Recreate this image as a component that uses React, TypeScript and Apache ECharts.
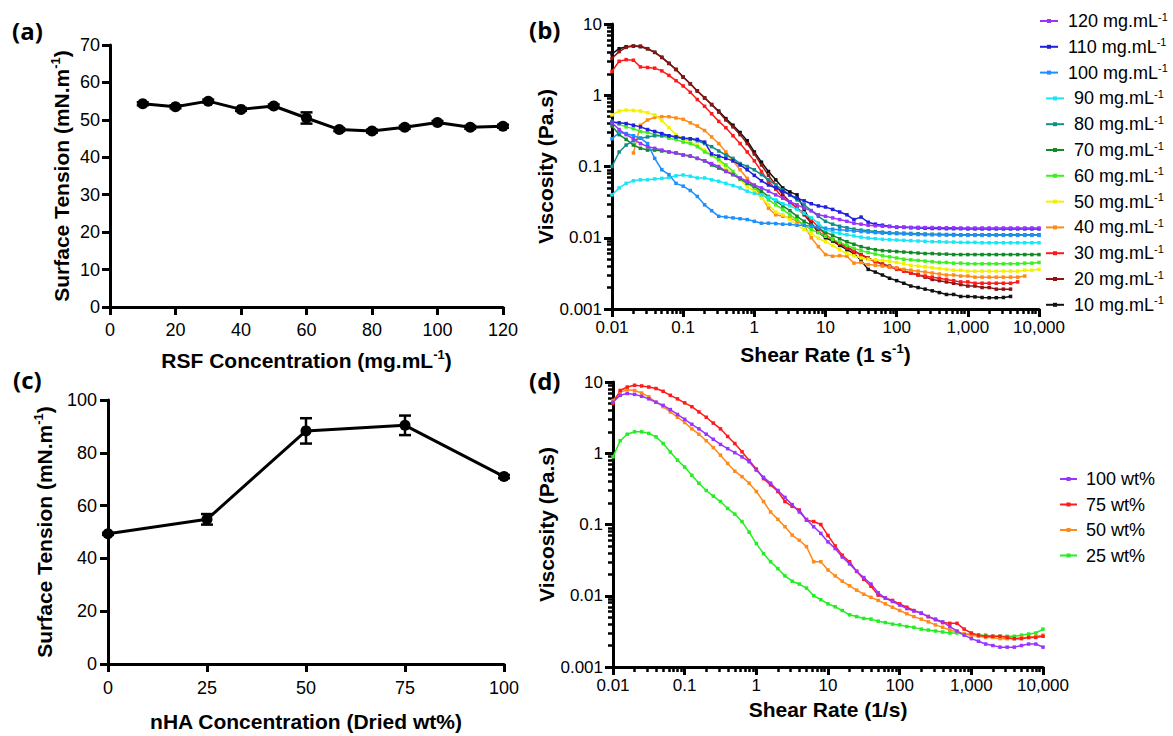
import React, { useEffect, useRef } from 'react';
import * as echarts from 'echarts';

// ---------- Panel (a) ----------
const RSF_CONC = [10, 20, 30, 40, 50, 60, 70, 80, 90, 100, 110, 120];
const TENSION_A = [54.3, 53.5, 55.0, 52.8, 53.7, 50.5, 47.4, 47.0, 48.0, 49.3, 48.0, 48.3];
const ERR_A = [0.4, 0.4, 0.4, 0.4, 0.4, 1.5, 0.4, 0.4, 0.4, 0.4, 0.4, 0.4];

// ---------- Panel (c) ----------
const NHA_CONC = [0, 25, 50, 75, 100];
const TENSION_C = [49.3, 54.8, 88.3, 90.4, 71.0];
const ERR_C = [0.4, 2.0, 4.8, 3.7, 0.6];

// ---------- Shared shear rates (1/s) ----------
const SHEAR = [
  0.01, 0.0126, 0.0158, 0.02, 0.0251, 0.0316, 0.0398, 0.0501, 0.0631, 0.0794,
  0.1, 0.126, 0.158, 0.2, 0.251, 0.316, 0.398, 0.501, 0.631, 0.794,
  1, 1.26, 1.58, 2, 2.51, 3.16, 3.98, 5.01, 6.31, 7.94,
  10, 12.6, 15.8, 20, 25.1, 31.6, 39.8, 50.1, 63.1, 79.4,
  100, 126, 158, 200, 251, 316, 398, 501, 631, 794,
  1000, 1259, 1585, 1995, 2512, 3162, 3981, 5012, 6310, 7943, 10000,
];

// ---------- Panel (b) viscosities (Pa.s) ----------
const V120 = [
  0.41, 0.33, 0.28, 0.245, 0.21, 0.19, 0.18, 0.17, 0.16, 0.155,
  0.145, 0.14, 0.13, 0.12, 0.11, 0.1, 0.086, 0.077, 0.069, 0.062,
  0.055, 0.05, 0.045, 0.04, 0.036, 0.032, 0.029, 0.026, 0.024, 0.021,
  0.02, 0.019, 0.018, 0.017, 0.016, 0.0155, 0.015, 0.0147, 0.0145, 0.0143,
  0.0142, 0.0141, 0.014, 0.014, 0.0139, 0.0139, 0.0138, 0.0138, 0.0138, 0.0137,
  0.0137, 0.0137, 0.0137, 0.0137, 0.0137, 0.0137, 0.0137, 0.0137, 0.0137, 0.0137, 0.0137,
];
const V110 = [
  0.42, 0.41, 0.4, 0.38, 0.36, 0.33, 0.31, 0.29, 0.27, 0.26,
  0.25, 0.245, 0.24, 0.22, 0.15, 0.14, 0.13, 0.12, 0.105, 0.09,
  0.075, 0.063, 0.055, 0.05, 0.045, 0.04, 0.036, 0.033, 0.03, 0.028,
  0.027, 0.025, 0.023, 0.021, 0.018, 0.0195, 0.0165, 0.0155, 0.015, 0.0145,
  0.014, 0.014, 0.0138, 0.0137, 0.0136, 0.0135, 0.0135, 0.0134, 0.0134, 0.0134,
  0.0133, 0.0133, 0.0133, 0.0133, 0.0133, 0.0133, 0.0133, 0.0133, 0.0133, 0.0133, 0.0133,
];
const V100 = [
  0.245, 0.3, 0.29, 0.27, 0.25, 0.21, 0.13, 0.09, 0.077, 0.058,
  0.053, 0.046, 0.038, 0.029, 0.024, 0.02, 0.0195, 0.019, 0.0185, 0.018,
  0.017, 0.016, 0.016, 0.0158, 0.0155, 0.0155, 0.015, 0.015, 0.0145, 0.014,
  0.0136, 0.0132, 0.013, 0.0127, 0.0124, 0.0122, 0.012, 0.0118, 0.0116, 0.0115,
  0.0114, 0.0113, 0.0112, 0.0111, 0.011, 0.011, 0.0109, 0.0109, 0.0108, 0.0108,
  0.0108, 0.0108, 0.0108, 0.0108, 0.0108, 0.0108, 0.0108, 0.0108, 0.0108, 0.0108, 0.0108,
];
const V90 = [
  0.04, 0.05, 0.058, 0.063, 0.065, 0.065, 0.067, 0.068, 0.07, 0.074,
  0.076, 0.073, 0.069, 0.069, 0.065, 0.062, 0.058, 0.054, 0.05, 0.045,
  0.042, 0.04, 0.037, 0.034, 0.03, 0.028, 0.025, 0.022, 0.019, 0.016,
  0.013, 0.012, 0.0115, 0.011, 0.0106, 0.0102, 0.0099, 0.0097, 0.0095, 0.0094,
  0.0093, 0.0092, 0.0091, 0.009, 0.0089, 0.0088, 0.0088, 0.0087, 0.0087, 0.0086,
  0.0086, 0.0086, 0.0085, 0.0085, 0.0085, 0.0085, 0.0085, 0.0085, 0.0085, 0.0085, 0.0085,
];
const V80 = [
  0.1, 0.16, 0.2, 0.23, 0.25, 0.26, 0.27, 0.27, 0.27, 0.26,
  0.25, 0.245, 0.23, 0.21, 0.19, 0.165, 0.145, 0.13, 0.11, 0.1,
  0.09, 0.077, 0.065, 0.055, 0.047, 0.04, 0.034, 0.029, 0.024, 0.02,
  0.017, 0.0155, 0.0145, 0.0138, 0.0132, 0.0128, 0.0125, 0.0122, 0.012, 0.0118,
  0.0117, 0.0116, 0.0115, 0.0114, 0.0113, 0.0112, 0.0112, 0.0111, 0.0111, 0.011,
  0.011, 0.011, 0.011, 0.011, 0.011, 0.011, 0.011, 0.011, 0.011, 0.011, 0.011,
];
const V70 = [
  0.37, 0.28, 0.24, 0.2, 0.18, 0.17, 0.17, 0.165, 0.16, 0.155,
  0.145, 0.14, 0.13, 0.12, 0.105, 0.095, 0.085, 0.077, 0.067, 0.058,
  0.053, 0.045, 0.038, 0.033, 0.028, 0.024, 0.02, 0.017, 0.015, 0.0135,
  0.012, 0.0108, 0.0097, 0.0088, 0.0081, 0.0075, 0.0071, 0.0068, 0.0066, 0.0065,
  0.0064, 0.0063, 0.0062, 0.0061, 0.006, 0.006, 0.0059, 0.0059, 0.0058, 0.0058,
  0.0058, 0.0058, 0.0058, 0.0058, 0.0058, 0.0058, 0.0058, 0.0058, 0.0058, 0.0058, 0.0058,
];
const V60 = [
  0.43, 0.39, 0.36, 0.34, 0.31, 0.3, 0.28, 0.27, 0.25, 0.24,
  0.22, 0.21, 0.19, 0.16, 0.145, 0.125, 0.105, 0.085, 0.068, 0.058,
  0.05, 0.042, 0.034, 0.029, 0.025, 0.021, 0.018, 0.015, 0.013, 0.0118,
  0.0105, 0.0095, 0.0086, 0.0078, 0.0071, 0.0066, 0.0062, 0.0059, 0.0056, 0.0054,
  0.0052, 0.005, 0.0049, 0.0048, 0.0047, 0.0046, 0.0045, 0.0045, 0.0044, 0.0044,
  0.0043, 0.0043, 0.0043, 0.0043, 0.0043, 0.0043, 0.0043, 0.0043, 0.0044, 0.0044, 0.0045,
];
const V50 = [
  0.53, 0.6, 0.62, 0.61, 0.6, 0.57, 0.53, 0.44, 0.35, 0.28,
  0.245, 0.22, 0.2, 0.17, 0.145, 0.12, 0.095, 0.078, 0.065, 0.052,
  0.045, 0.036, 0.029, 0.023, 0.021, 0.018, 0.015, 0.013, 0.0115, 0.0098,
  0.0088, 0.0078, 0.0068, 0.006, 0.0056, 0.0052, 0.005, 0.0049, 0.0048, 0.0047,
  0.0045, 0.0043, 0.0041, 0.004, 0.0039, 0.0038, 0.0037, 0.0036, 0.0035, 0.0035,
  0.0034, 0.0034, 0.0034, 0.0034, 0.0034, 0.0034, 0.0034, 0.0034, 0.0035, 0.0035, 0.0036,
];
const V40 = [
  null, null, null, 0.155, 0.38, 0.45, 0.49, 0.5, 0.5, 0.48,
  0.46, 0.41, 0.37, 0.32, 0.26, 0.21, 0.16, 0.12, 0.09, 0.068,
  0.052, 0.038, 0.026, 0.021, 0.02, 0.019, 0.017, 0.015, 0.01, 0.0075,
  0.0058, 0.0055, 0.0056, 0.0055, 0.0044, 0.0045, 0.0042, 0.0041, 0.004, 0.0039,
  0.0038, 0.0036, 0.0035, 0.0034, 0.0033, 0.0032, 0.0031, 0.003, 0.003, 0.0029,
  0.0029, 0.0028, 0.0028, 0.0028, 0.0028, 0.0028, 0.0028, 0.0028, 0.0029,
];
const V30 = [
  2.16, 3.0, 3.16, 3.1, 2.5, 2.45, 2.4, 2.2, 1.9, 1.6,
  1.35, 1.1, 0.87, 0.7, 0.55, 0.43, 0.35, 0.27, 0.21, 0.16,
  0.12, 0.085, 0.062, 0.048, 0.036, 0.031, 0.026, 0.022, 0.018, 0.014,
  0.011, 0.0095, 0.0083, 0.0072, 0.0064, 0.0057, 0.0051, 0.0046, 0.0042, 0.0039,
  0.0036, 0.0034, 0.0032, 0.003, 0.0029, 0.0028, 0.0027, 0.0026, 0.0025, 0.0024,
  0.0024, 0.0023, 0.0023, 0.0023, 0.0023, 0.0023, 0.0023, 0.0024,
];
const V20 = [
  3.3, 4.1, 4.7, 4.9, 4.9, 4.5, 4.0, 3.4, 2.8, 2.3,
  1.8, 1.45, 1.15, 0.92, 0.74, 0.58, 0.45, 0.36, 0.28, 0.21,
  0.15, 0.105, 0.075, 0.055, 0.04, 0.032, 0.026, 0.021, 0.016, 0.012,
  0.0105, 0.0092, 0.0082, 0.0074, 0.0066, 0.0058, 0.0052, 0.0047, 0.0043, 0.004,
  0.0037, 0.0034, 0.0032, 0.003, 0.0028, 0.0026, 0.0025, 0.0024, 0.0023, 0.0022,
  0.0021, 0.0021, 0.002, 0.002, 0.0019, 0.0019, 0.0019,
];
const V10 = [
  3.8, 4.5, 4.8, 4.9, 4.8, 4.5, 4.0, 3.4, 2.8, 2.3,
  1.8, 1.45, 1.15, 0.92, 0.74, 0.6, 0.47, 0.38, 0.3, 0.23,
  0.16, 0.115, 0.085, 0.065, 0.05, 0.044, 0.04, 0.025, 0.016, 0.012,
  0.01, 0.009, 0.0078, 0.0068, 0.006, 0.0048, 0.0036, 0.0033, 0.003, 0.0027,
  0.0025, 0.0023, 0.0021, 0.002, 0.0019, 0.0018, 0.0017, 0.0016, 0.0016, 0.0015,
  0.0015, 0.00148, 0.00145, 0.00144, 0.00144, 0.00145, 0.0015,
];

const RSF_NAMES = [
  '120 mg.mL-1', '110 mg.mL-1', '100 mg.mL-1', '90 mg.mL-1', '80 mg.mL-1', '70 mg.mL-1',
  '60 mg.mL-1', '50 mg.mL-1', '40 mg.mL-1', '30 mg.mL-1', '20 mg.mL-1', '10 mg.mL-1',
];
const RSF_VALUES = [V120, V110, V100, V90, V80, V70, V60, V50, V40, V30, V20, V10];
const RSF_COLORS = [
  '#9933FF', '#1F1FE0', '#1E8FFF', '#19E6F5', '#138C8C', '#128A28',
  '#3CF01E', '#F2F200', '#FF8A1A', '#FF1A1A', '#8E1414', '#111111',
];

// ---------- Panel (d) viscosities (Pa.s) ----------
const D100 = [
  5.2, 6.5, 6.9, 6.7, 6.3, 5.8, 5.2, 4.7, 4.1, 3.5,
  3.0, 2.55, 2.2, 1.85, 1.57, 1.33, 1.16, 1.02, 0.89, 0.76,
  0.58, 0.46, 0.38, 0.3, 0.24, 0.19, 0.15, 0.118, 0.093, 0.075,
  0.057, 0.046, 0.035, 0.028, 0.022, 0.018, 0.0146, 0.011, 0.0093, 0.0083,
  0.0074, 0.0066, 0.0061, 0.0057, 0.0051, 0.0047, 0.0043, 0.0037, 0.0032, 0.0028,
  0.0025, 0.0023, 0.0021, 0.002, 0.0019, 0.0019, 0.0019, 0.002, 0.0021, 0.0021, 0.0019,
];
const D75 = [
  5.0, 7.6, 8.5, 9.0, 8.8, 8.5, 8.1, 7.4, 6.5, 5.8,
  5.1, 4.5, 3.8, 3.2, 2.65, 2.2, 1.72, 1.37, 1.05, 0.79,
  0.6, 0.44, 0.36, 0.29, 0.21, 0.18, 0.16, 0.115, 0.11, 0.1,
  0.07, 0.05, 0.037, 0.03, 0.022, 0.017, 0.0136, 0.0102, 0.0093, 0.0086,
  0.0077, 0.0069, 0.0062, 0.0057, 0.0051, 0.0046, 0.0042, 0.0041, 0.0041, 0.0034,
  0.003, 0.0028, 0.0027, 0.0027, 0.0027, 0.0026, 0.0025, 0.0025, 0.0026, 0.0026, 0.0027,
];
const D50 = [
  5.5, 7.2, 7.8, 7.6, 7.0, 6.2, 5.2, 4.5, 3.8, 3.2,
  2.7, 2.2, 1.85, 1.5, 1.2, 0.94, 0.72, 0.56, 0.47, 0.38,
  0.29, 0.21, 0.15, 0.118, 0.093, 0.071, 0.06, 0.049, 0.03, 0.03,
  0.023, 0.019, 0.016, 0.0138, 0.012, 0.0105, 0.0095, 0.0086, 0.0077, 0.0069,
  0.0062, 0.0056, 0.0051, 0.0047, 0.0043, 0.0039, 0.0036, 0.0033, 0.0031, 0.0029,
  0.0028, 0.0027, 0.0026, 0.0026, 0.0025, 0.0025, 0.0025, 0.0026, 0.0026, 0.0027, 0.0028,
];
const D25 = [
  0.89, 1.5, 1.85, 2.0, 2.0, 1.9, 1.7, 1.37, 1.04, 0.8,
  0.64, 0.49, 0.38, 0.3, 0.25, 0.21, 0.168, 0.14, 0.11, 0.078,
  0.054, 0.039, 0.03, 0.024, 0.019, 0.016, 0.0146, 0.0128, 0.01, 0.0088,
  0.0077, 0.007, 0.0062, 0.0054, 0.0051, 0.0048, 0.0047, 0.0044, 0.0042, 0.004,
  0.0039, 0.0037, 0.0036, 0.0034, 0.0033, 0.0032, 0.0031, 0.003, 0.003, 0.0029,
  0.0029, 0.0028, 0.0028, 0.0027, 0.0027, 0.0027, 0.0027, 0.0028, 0.0029, 0.003, 0.0034,
];
const NHA_NAMES = ['100 wt%', '75 wt%', '50 wt%', '25 wt%'];
const NHA_VALUES = [D100, D75, D50, D25];
const NHA_COLORS = ['#9933FF', '#FF1A1A', '#FF8A1A', '#22EE22'];

// ---------- Tick values ----------
const X_MAJOR = [0.01, 0.1, 1, 10, 100, 1000, 10000];
const Y_MAJOR = [0.001, 0.01, 0.1, 1, 10];
const X_MINOR = [
  0.02, 0.03, 0.04, 0.05, 0.06, 0.07, 0.08, 0.09,
  0.2, 0.3, 0.4, 0.5, 0.6, 0.7, 0.8, 0.9,
  2, 3, 4, 5, 6, 7, 8, 9,
  20, 30, 40, 50, 60, 70, 80, 90,
  200, 300, 400, 500, 600, 700, 800, 900,
  2000, 3000, 4000, 5000, 6000, 7000, 8000, 9000,
];
const Y_MINOR = [
  0.002, 0.003, 0.004, 0.005, 0.006, 0.007, 0.008, 0.009,
  0.02, 0.03, 0.04, 0.05, 0.06, 0.07, 0.08, 0.09,
  0.2, 0.3, 0.4, 0.5, 0.6, 0.7, 0.8, 0.9,
  2, 3, 4, 5, 6, 7, 8, 9,
];

const FONT = "'Liberation Sans', Arial, sans-serif";

const nameRich = {
  b: { fontSize: 21, fontWeight: 'bold', fontFamily: FONT, color: '#000', lineHeight: 24 },
  s: { fontSize: 13, fontWeight: 'bold', fontFamily: FONT, color: '#000', verticalAlign: 'top', lineHeight: 12 },
};

const fmtLog = (v: number) => {
  if (v >= 1000) return Math.round(v).toLocaleString('en-US');
  return String(Number(v.toPrecision(3)));
};

function linAxis(gridIndex: number, min: number, max: number, interval: number, pos: string, extra: any) {
  return {
    type: 'value', gridIndex, min, max, interval, position: pos,
    axisLine: { show: true, onZero: false, lineStyle: { color: '#000', width: 3 } },
    axisTick: { show: true, inside: false, length: 8, lineStyle: { color: '#000', width: 3 } },
    axisLabel: { color: '#000', fontSize: 18, fontFamily: FONT, margin: 12 },
    splitLine: { show: false },
    nameLocation: 'middle',
    nameTextStyle: { rich: nameRich },
    ...extra,
  };
}

function logAxis(gridIndex: number, min: number, max: number, pos: string, major: number[], extra: any) {
  return {
    type: 'log', logBase: 10, gridIndex, min, max, position: pos,
    axisLine: { show: true, onZero: false, lineStyle: { color: '#000', width: 3 } },
    axisTick: { show: true, inside: false, length: 8, customValues: major, lineStyle: { color: '#000', width: 3 } },
    axisLabel: { color: '#000', fontSize: 17, fontFamily: FONT, margin: 10, customValues: major, formatter: fmtLog },
    splitLine: { show: false },
    minorTick: { show: false },
    nameLocation: 'middle',
    nameTextStyle: { rich: nameRich },
    ...extra,
  };
}

function minorAxis(gridIndex: number, min: number, max: number, pos: string, minor: number[]) {
  return {
    type: 'log', logBase: 10, gridIndex, min, max, position: pos,
    axisLine: { show: false, onZero: false },
    axisTick: { show: true, inside: false, length: 5, customValues: minor, lineStyle: { color: '#000', width: 2.5 } },
    axisLabel: { show: false },
    splitLine: { show: false },
  };
}

function errorRender(params: any, api: any) {
  const x = api.value(0);
  const y = api.value(1);
  const e = api.value(2);
  const p1 = api.coord([x, y + e]);
  const p2 = api.coord([x, y - e]);
  const hw = 6;
  const st = { stroke: '#000', lineWidth: 2.5 };
  return {
    type: 'group',
    children: [
      { type: 'line', shape: { x1: p1[0], y1: p1[1], x2: p2[0], y2: p2[1] }, style: st },
      { type: 'line', shape: { x1: p1[0] - hw, y1: p1[1], x2: p1[0] + hw, y2: p1[1] }, style: st },
      { type: 'line', shape: { x1: p2[0] - hw, y1: p2[1], x2: p2[0] + hw, y2: p2[1] }, style: st },
    ],
  };
}

const pairs = (xs: number[], ys: (number | null)[]) =>
  ys.map((y, i) => [xs[i], y]).filter((p) => p[1] !== null);

const legendFmt = (name: string) =>
  name.endsWith('-1') ? `{t|${name.slice(0, -2)}}{s|-1}` : `{t|${name}}`;

function legendItem(name: string, left: number, top: number, itemWidth: number, pad: number) {
  return {
    show: true,
    selectedMode: false,
    orient: 'vertical',
    data: [name],
    left,
    top,
    padding: 0,
    itemGap: 0,
    itemWidth,
    itemHeight: 5,
    formatter: legendFmt,
    textStyle: {
      color: '#000',
      fontFamily: FONT,
      fontSize: 18,
      padding: [0, 0, 0, pad],
      rich: {
        t: { fontSize: 18, fontFamily: FONT, color: '#000', lineHeight: 20 },
        s: { fontSize: 11, fontFamily: FONT, color: '#000', verticalAlign: 'top', lineHeight: 9 },
      },
    },
  };
}

function buildOption() {
  const series: any[] = [];

  // (a)
  series.push({
    type: 'custom', xAxisIndex: 0, yAxisIndex: 0, renderItem: errorRender,
    encode: { x: 0, y: 1 },
    data: RSF_CONC.map((x, i) => [x, TENSION_A[i], ERR_A[i]]),
  });
  series.push({
    type: 'line', name: 'RSF', xAxisIndex: 0, yAxisIndex: 0,
    data: RSF_CONC.map((x, i) => [x, TENSION_A[i]]),
    symbol: 'circle', symbolSize: 11,
    lineStyle: { color: '#000', width: 3 }, itemStyle: { color: '#000' },
  });

  // (c)
  series.push({
    type: 'custom', xAxisIndex: 2, yAxisIndex: 2, renderItem: errorRender,
    encode: { x: 0, y: 1 },
    data: NHA_CONC.map((x, i) => [x, TENSION_C[i], ERR_C[i]]),
  });
  series.push({
    type: 'line', name: 'nHA', xAxisIndex: 2, yAxisIndex: 2,
    data: NHA_CONC.map((x, i) => [x, TENSION_C[i]]),
    symbol: 'circle', symbolSize: 11,
    lineStyle: { color: '#000', width: 3 }, itemStyle: { color: '#000' },
  });

  // (b) draw lowest concentration first
  for (let i = RSF_NAMES.length - 1; i >= 0; i--) {
    series.push({
      type: 'line', name: RSF_NAMES[i], xAxisIndex: 1, yAxisIndex: 1,
      data: pairs(SHEAR, RSF_VALUES[i]),
      symbol: 'rect', symbolSize: 3.5,
      lineStyle: { color: RSF_COLORS[i], width: 1.5 },
      itemStyle: { color: RSF_COLORS[i] },
    });
  }

  // (d)
  for (let i = NHA_NAMES.length - 1; i >= 0; i--) {
    series.push({
      type: 'line', name: NHA_NAMES[i], xAxisIndex: 3, yAxisIndex: 3,
      data: pairs(SHEAR, NHA_VALUES[i]),
      symbol: 'rect', symbolSize: 3.5,
      lineStyle: { color: NHA_COLORS[i], width: 1.5 },
      itemStyle: { color: NHA_COLORS[i] },
    });
  }

  const legends: any[] = [];
  RSF_NAMES.forEach((n, i) => {
    const wide = n.length >= 11;
    legends.push(legendItem(n, wide ? 1039 : 1045, 11 + i * 25.8, 18, 5));
  });
  NHA_NAMES.forEach((n, i) => {
    legends.push(legendItem(n, 1059, 470 + i * 25.5, 17, 4));
  });

  return {
    animation: false,
    backgroundColor: '#fff',
    grid: [
      { left: 110, top: 45, width: 393, height: 262 },
      { left: 612, top: 24, width: 427, height: 285 },
      { left: 108, top: 400, width: 396, height: 264 },
      { left: 613, top: 382, width: 430, height: 285 },
    ],
    xAxis: [
      linAxis(0, 0, 120, 20, 'bottom', {
        name: '{b|RSF Concentration (mg.mL}{s|-1}{b|)}', nameGap: 41,
        axisLabel: { color: '#000', fontSize: 18, fontFamily: FONT, margin: 14 },
      }),
      logAxis(1, 0.01, 10000, 'bottom', X_MAJOR, { name: '{b|Shear Rate (1 s}{s|-1}{b|)}', nameGap: 33 }),
      linAxis(2, 0, 100, 25, 'bottom', {
        name: '{b|nHA Concentration (Dried wt%)}', nameGap: 45,
        axisLabel: { color: '#000', fontSize: 18, fontFamily: FONT, margin: 15 },
      }),
      logAxis(3, 0.01, 10000, 'bottom', X_MAJOR, { name: '{b|Shear Rate (1/s)}', nameGap: 30 }),
      minorAxis(1, 0.01, 10000, 'bottom', X_MINOR),
      minorAxis(3, 0.01, 10000, 'bottom', X_MINOR),
    ],
    yAxis: [
      linAxis(0, 0, 70, 10, 'left', {
        name: '{b|Surface Tension (mN.m}{s|-1}{b|)}', nameGap: 37, nameRotate: 90,
        axisLabel: { color: '#000', fontSize: 18, fontFamily: FONT, margin: 10 },
      }),
      logAxis(1, 0.001, 10, 'left', Y_MAJOR, { name: '{b|Viscosity (Pa.s)}', nameGap: 42, nameRotate: 90 }),
      linAxis(2, 0, 100, 20, 'left', {
        name: '{b|Surface Tension (mN.m}{s|-1}{b|)}', nameGap: 52, nameRotate: 90,
        axisLabel: { color: '#000', fontSize: 18, fontFamily: FONT, margin: 11 },
      }),
      logAxis(3, 0.001, 10, 'left', Y_MAJOR, { name: '{b|Viscosity (Pa.s)}', nameGap: 55, nameRotate: 90 }),
      minorAxis(1, 0.001, 10, 'left', Y_MINOR),
      minorAxis(3, 0.001, 10, 'left', Y_MINOR),
    ],
    legend: legends,
    graphic: [
      { type: 'text', left: 12, top: 18, style: { text: '(a)', font: "bold 24px 'Open Sans', sans-serif", fill: '#000' } },
      { type: 'text', left: 529, top: 17, style: { text: '(b)', font: "bold 24px 'Open Sans', sans-serif", fill: '#000' } },
      { type: 'text', left: 13, top: 367, style: { text: '(c)', font: "bold 24px 'Open Sans', sans-serif", fill: '#000' } },
      { type: 'text', left: 529, top: 368, style: { text: '(d)', font: "bold 24px 'Open Sans', sans-serif", fill: '#000' } },
    ],
    series,
  };
}

export default function App() {
  const ref = useRef<HTMLDivElement>(null);
  useEffect(() => {
    const chart = echarts.init(ref.current!, null, { renderer: 'svg' });
    chart.setOption(buildOption() as any);
    return () => chart.dispose();
  }, []);
  return (
    <div
      ref={ref}
      style={{ position: 'absolute', left: 0, top: 0, width: 1173, height: 736, background: '#fff' }}
    />
  );
}
